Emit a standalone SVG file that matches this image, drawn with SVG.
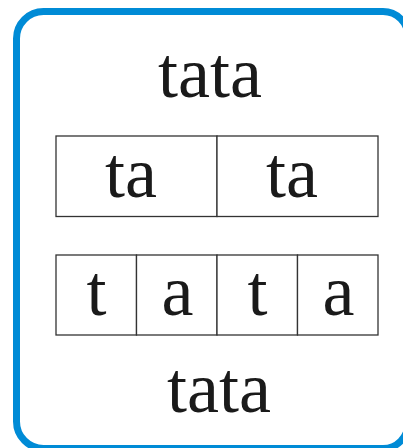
<svg xmlns="http://www.w3.org/2000/svg" width="403" height="448" viewBox="0 0 403 448">
<style>
.t{font-family:"Liberation Serif","Times New Roman",serif;font-size:72px;fill:#1a1a1a;text-anchor:middle}
.c{fill:#fff;stroke:#333;stroke-width:1.3}
</style>
<rect x="0" y="0" width="403" height="448" fill="#fff"/>
<g id="frame"><path d="M16.5,38.5 A27,27 0 0 1 43.5,11.5 H383 A25,25 0 0 1 408,36.5 V423.5 A25,25 0 0 1 383,448.5 H43.5 A27,27 0 0 1 16.5,421.5 Z" fill="#fff" stroke="#008bd6" stroke-width="7"/></g>
<g id="title"><text class="t" x="210" y="97">tata</text></g>
<g id="row1">
<g id="cell-ta1"><rect class="c" x="56" y="136" width="161" height="80.5"/><text class="t" x="131" y="196.5">ta</text></g>
<g id="cell-ta2"><rect class="c" x="217" y="136" width="161" height="80.5"/><text class="t" x="292" y="196.5">ta</text></g>
</g>
<g id="row2">
<g id="cell-t1"><rect class="c" x="56" y="255" width="80.5" height="80"/><text class="t" x="96.5" y="315">t</text></g>
<g id="cell-a1"><rect class="c" x="136.5" y="255" width="80.5" height="80"/><text class="t" x="177.5" y="315">a</text></g>
<g id="cell-t2"><rect class="c" x="217" y="255" width="80.5" height="80"/><text class="t" x="257.5" y="315">t</text></g>
<g id="cell-a2"><rect class="c" x="297.5" y="255" width="80.5" height="80"/><text class="t" x="338.5" y="315">a</text></g>
</g>
<g id="connectors"></g>
<g id="footer"><text class="t" x="219" y="411.5">tata</text></g>
</svg>
